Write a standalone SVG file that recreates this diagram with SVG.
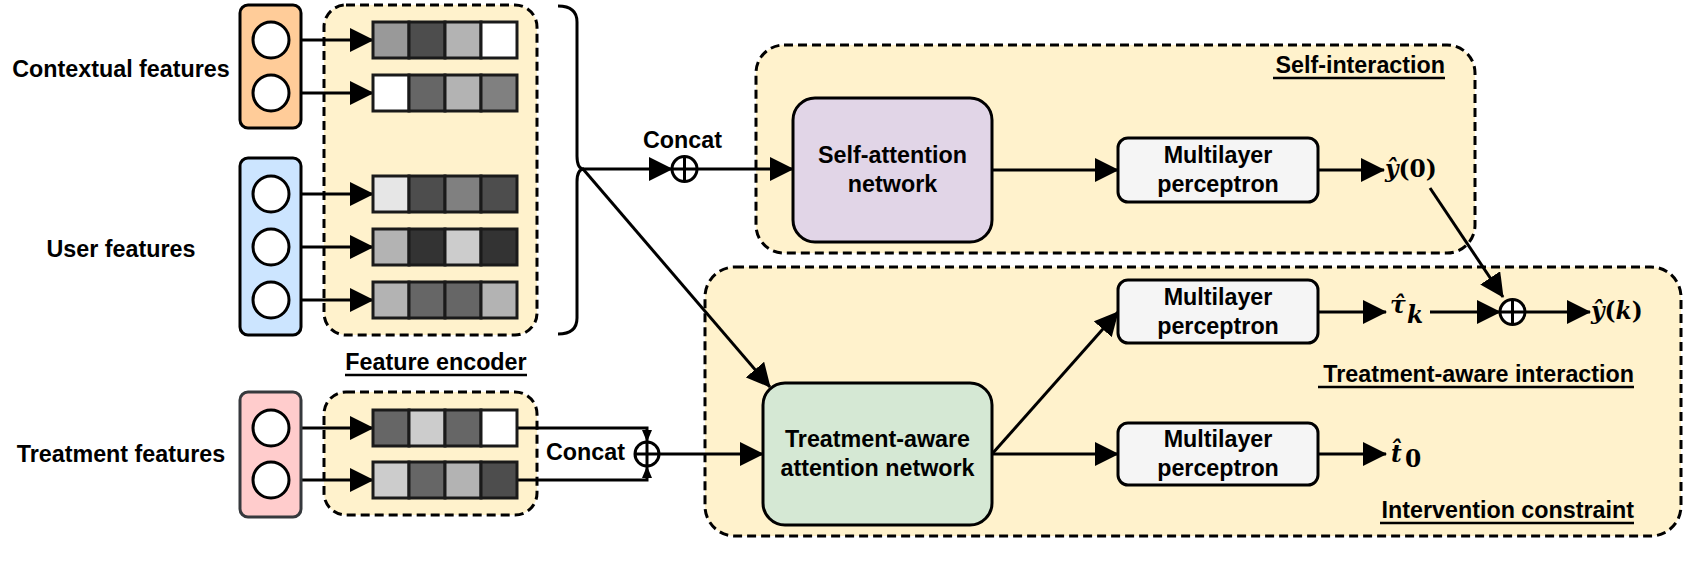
<svg xmlns="http://www.w3.org/2000/svg" width="1702" height="567" viewBox="0 0 1702 567">
<style>
text{font-family:"Liberation Sans",Arial,sans-serif;font-weight:bold;font-size:23.3px;fill:#000}
.mid{text-anchor:middle}
.end{text-anchor:end}
.math{font-family:"DejaVu Serif","Liberation Serif",serif;font-weight:bold}
.it{font-style:italic}
.cont{stroke:#000;stroke-width:3;stroke-dasharray:9 5}
.enc{fill:#FFF2CC}
.box{stroke:#000;stroke-width:3}
.circ{fill:#fff;stroke:#000;stroke-width:3}
.cell{stroke:#1a1a1a;stroke-width:3}
.ln{fill:none;stroke:#000;stroke-width:3}
.ul{stroke:#000;stroke-width:2.6}
</style>
<defs>
<marker id="ah" viewBox="0 0 24 24" refX="23" refY="12" markerWidth="24" markerHeight="24" markerUnits="userSpaceOnUse" orient="auto"><path d="M0,0 L24,12 L0,24 Z" fill="#000"/></marker>
<marker id="ahs" viewBox="0 0 12 10" refX="12" refY="5" markerWidth="12" markerHeight="10" markerUnits="userSpaceOnUse" orient="auto"><path d="M0,0 L12,5 L0,10 Z" fill="#000"/></marker>
</defs>

<!-- containers -->
<g id="self-interaction">
<rect x="756" y="45" width="719" height="208" rx="28" class="enc cont"/>
<text x="1445" y="73" class="end">Self-interaction</text>
<line x1="1273" y1="78" x2="1445" y2="78" class="ul"/>
</g>
<g id="treatment-aware-interaction">
<rect x="705" y="267" width="976" height="269" rx="30" class="enc cont"/>
<text x="1634" y="382" class="end">Treatment-aware interaction</text>
<line x1="1318" y1="387" x2="1634" y2="387" class="ul"/>
<text x="1634" y="518" class="end">Intervention constraint</text>
<line x1="1380" y1="523" x2="1634" y2="523" class="ul"/>
</g>
<g id="feature-encoder">
<rect x="324" y="5" width="213" height="330" rx="22" class="enc cont"/>
<rect x="324" y="392" width="213" height="123" rx="22" class="enc cont"/>
<text x="436" y="370" class="mid">Feature encoder</text>
<line x1="345" y1="375" x2="527" y2="375" class="ul"/>
</g>

<!-- brace -->
<g id="brace">
<path d="M558,6 Q577,6 577,22 L577,156 Q577,169 584,169 Q577,169 577,182 L577,318 Q577,334 558,334" class="ln"/>
</g>

<!-- connectors -->
<g id="connectors" class="ln">
<path d="M289,40 H373" marker-end="url(#ah)"/>
<path d="M289,93 H373" marker-end="url(#ah)"/>
<path d="M289,194 H373" marker-end="url(#ah)"/>
<path d="M289,247 H373" marker-end="url(#ah)"/>
<path d="M289,300 H373" marker-end="url(#ah)"/>
<path d="M289,428 H373" marker-end="url(#ah)"/>
<path d="M289,480 H373" marker-end="url(#ah)"/>
<path d="M583,169 H672" marker-end="url(#ah)"/>
<path d="M697,169 H793" marker-end="url(#ah)"/>
<path d="M583,169 L770,387" marker-end="url(#ah)"/>
<path d="M992,170 H1118" marker-end="url(#ah)"/>
<path d="M1318,170 H1384" marker-end="url(#ah)"/>
<path d="M1430,188 L1503,297" marker-end="url(#ah)"/>
<path d="M516,428 H647 V442" marker-end="url(#ahs)"/>
<path d="M516,480 H647 V466" marker-end="url(#ahs)"/>
<path d="M659,454 H763" marker-end="url(#ah)"/>
<path d="M992,454 L1118,312" marker-end="url(#ah)"/>
<path d="M992,454 H1118" marker-end="url(#ah)"/>
<path d="M1318,312 H1386" marker-end="url(#ah)"/>
<path d="M1430,312 H1500" marker-end="url(#ah)"/>
<path d="M1525,312 H1590" marker-end="url(#ah)"/>
<path d="M1318,454 H1386" marker-end="url(#ah)"/>
</g>

<!-- input feature groups -->
<g id="contextual-features">
<text x="121" y="77" class="mid">Contextual features</text>
<rect x="240" y="5" width="61" height="123" rx="8" fill="#FFCC99" class="box"/>
<circle cx="271" cy="40" r="18" class="circ"/>
<circle cx="271" cy="93" r="18" class="circ"/>
</g>
<g id="user-features">
<text x="121" y="257" class="mid">User features</text>
<rect x="240" y="158" width="61" height="177" rx="8" fill="#CCE5FF" class="box"/>
<circle cx="271" cy="194" r="18" class="circ"/>
<circle cx="271" cy="247" r="18" class="circ"/>
<circle cx="271" cy="300" r="18" class="circ"/>
</g>
<g id="treatment-features">
<text x="121" y="462" class="mid">Treatment features</text>
<rect x="240" y="392" width="61" height="125" rx="8" fill="#FFCCCC" stroke="#36393D" stroke-width="3"/>
<circle cx="271" cy="428" r="18" class="circ"/>
<circle cx="271" cy="480" r="18" class="circ"/>
</g>

<!-- embeddings -->
<g id="emb-c1" class="cell">
<rect x="373" y="22" width="36" height="36" fill="#999999"/><rect x="409" y="22" width="36" height="36" fill="#4D4D4D"/><rect x="445" y="22" width="36" height="36" fill="#B3B3B3"/><rect x="481" y="22" width="36" height="36" fill="#FFFFFF"/>
</g>
<g id="emb-c2" class="cell">
<rect x="373" y="75" width="36" height="36" fill="#FFFFFF"/><rect x="409" y="75" width="36" height="36" fill="#666666"/><rect x="445" y="75" width="36" height="36" fill="#B3B3B3"/><rect x="481" y="75" width="36" height="36" fill="#808080"/>
</g>
<g id="emb-u1" class="cell">
<rect x="373" y="176" width="36" height="36" fill="#E6E6E6"/><rect x="409" y="176" width="36" height="36" fill="#4D4D4D"/><rect x="445" y="176" width="36" height="36" fill="#808080"/><rect x="481" y="176" width="36" height="36" fill="#4D4D4D"/>
</g>
<g id="emb-u2" class="cell">
<rect x="373" y="229" width="36" height="36" fill="#B3B3B3"/><rect x="409" y="229" width="36" height="36" fill="#333333"/><rect x="445" y="229" width="36" height="36" fill="#CCCCCC"/><rect x="481" y="229" width="36" height="36" fill="#333333"/>
</g>
<g id="emb-u3" class="cell">
<rect x="373" y="282" width="36" height="36" fill="#B3B3B3"/><rect x="409" y="282" width="36" height="36" fill="#666666"/><rect x="445" y="282" width="36" height="36" fill="#666666"/><rect x="481" y="282" width="36" height="36" fill="#B3B3B3"/>
</g>
<g id="emb-t1" class="cell">
<rect x="373" y="410" width="36" height="36" fill="#666666"/><rect x="409" y="410" width="36" height="36" fill="#CCCCCC"/><rect x="445" y="410" width="36" height="36" fill="#666666"/><rect x="481" y="410" width="36" height="36" fill="#FFFFFF"/>
</g>
<g id="emb-t2" class="cell">
<rect x="373" y="462" width="36" height="36" fill="#CCCCCC"/><rect x="409" y="462" width="36" height="36" fill="#666666"/><rect x="445" y="462" width="36" height="36" fill="#B3B3B3"/><rect x="481" y="462" width="36" height="36" fill="#4D4D4D"/>
</g>

<!-- concat operators -->
<g id="concat-top">
<text x="682.5" y="148" class="mid">Concat</text>
<circle cx="684.5" cy="169" r="12.5" fill="#fff" stroke="#000" stroke-width="3"/>
<path d="M672,169 H697 M684.5,156.5 V181.5" class="ln"/>
</g>
<g id="concat-treatment">
<text x="585.5" y="460" class="mid">Concat</text>
<circle cx="647" cy="454" r="12" fill="#fff" stroke="#000" stroke-width="3"/>
<path d="M635,454 H659 M647,442 V466" class="ln"/>
</g>

<!-- main nodes -->
<g id="self-attention">
<rect x="793" y="98" width="199" height="144" rx="22" fill="#E1D5E7" class="box"/>
<text x="892.5" y="163" class="mid">Self-attention</text>
<text x="892.5" y="192" class="mid">network</text>
</g>
<g id="treatment-attention">
<rect x="763" y="383" width="229" height="142" rx="22" fill="#D5E8D4" class="box"/>
<text x="877.5" y="447" class="mid">Treatment-aware</text>
<text x="877.5" y="476" class="mid">attention network</text>
</g>
<g id="mlp-1">
<rect x="1118" y="138" width="200" height="64" rx="10" fill="#F5F5F5" class="box"/>
<text x="1218" y="163" class="mid">Multilayer</text>
<text x="1218" y="192" class="mid">perceptron</text>
</g>
<g id="mlp-2">
<rect x="1118" y="280" width="200" height="63" rx="10" fill="#F5F5F5" class="box"/>
<text x="1218" y="304.5" class="mid">Multilayer</text>
<text x="1218" y="333.5" class="mid">perceptron</text>
</g>
<g id="mlp-3">
<rect x="1118" y="423" width="200" height="62" rx="10" fill="#F5F5F5" class="box"/>
<text x="1218" y="447" class="mid">Multilayer</text>
<text x="1218" y="476" class="mid">perceptron</text>
</g>

<!-- outputs -->
<g id="y0"><text x="1385" y="177" class="math" font-size="25.5"><tspan class="it">ŷ</tspan>(0)</text></g>
<g id="tau-k"><text x="1390" y="313" class="math it" font-size="24">τ̂</text><text x="1407" y="323" class="math it" font-size="17">k</text></g>
<g id="plus-out">
<circle cx="1512.5" cy="312" r="12.5" fill="#fff" stroke="#000" stroke-width="3"/>
<path d="M1500,312 H1525 M1512.5,299.5 V324.5" class="ln"/>
</g>
<g id="yk"><text x="1591" y="319" class="math" font-size="25.5"><tspan class="it">ŷ</tspan>(<tspan class="it">k</tspan>)</text></g>
<g id="t0"><text x="1391" y="462" class="math it" font-size="24">t̂</text><text x="1405" y="467" class="math" font-size="17">0</text></g>
</svg>
